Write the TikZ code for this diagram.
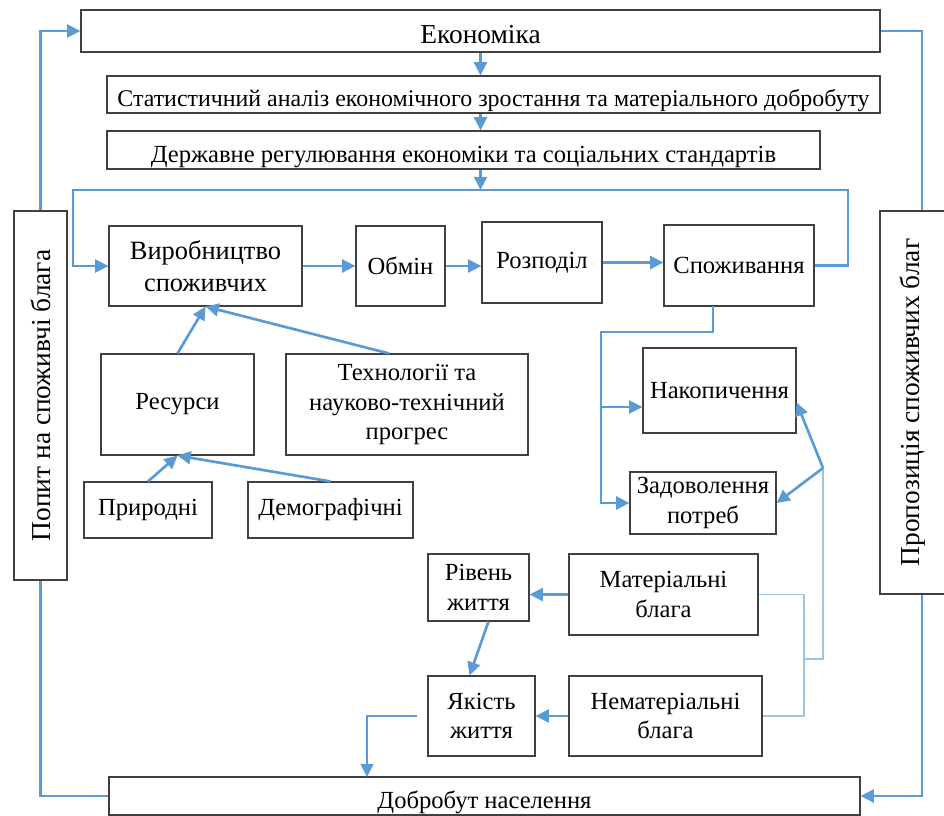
\documentclass[tikz,border=0pt]{standalone}
\usepackage{fontspec}
\setmainfont{Liberation Serif}
\usetikzlibrary{arrows.meta}
\definecolor{lineblue}{HTML}{5B9BD5}
\definecolor{thinblue}{HTML}{9DC3E6}

\begin{document}
\begin{tikzpicture}[
	box/.style={draw=black!75, line width=0.8pt, align=center, inner sep=1pt, font=\fontsize{17.5}{21}\selectfont},
	big/.style={font=\fontsize{19.5}{23}\selectfont},
	low/.style={text height=0.6cm, text depth=0pt, inner ysep=0pt},
	arr/.style={draw=lineblue, line width=1.9pt, -{Triangle[length=0.33cm,width=0.32cm]}},
	link/.style={draw=lineblue, line width=1.9pt},
	thinlink/.style={draw=thinblue, line width=1pt}]
	\useasboundingbox (0,0) rectangle (23.6,-20.4);
	\node[box, big, low, minimum width=19.975cm, minimum height=1.05cm] (econ) at (12.0125,-0.775) {Економіка};
	\node[box, low, font=\fontsize{17}{20}\selectfont, minimum width=19.325cm, minimum height=0.925cm] (stat) at (12.3375,-2.3625) {Статистичний аналіз економічного зростання та матеріального добробуту};
	\node[box, low, minimum width=17.825cm, minimum height=0.95cm] (derzh) at (11.5875,-3.75) {Державне регулювання економіки та соціальних стандартів};
	\node[box, big, minimum width=1.325cm, minimum height=9.225cm] (popyt) at (1.0125,-9.8875) {\rotatebox{90}{Попит на споживчі блага}};
	\node[box, big, minimum width=1.65cm, minimum height=9.575cm] (propoz) at (22.825,-10.0625) {\rotatebox{90}{Пропозиція споживчих благ}};
	\node[box, font=\fontsize{18.8}{22.5}\selectfont, minimum width=4.825cm, minimum height=2cm] (vyrob) at (5.1375,-6.65) {Виробництво\\споживчих};
	\node[box, minimum width=2.225cm, minimum height=2cm] (obmin) at (10.0125,-6.65) {Обмін};
	\node[box, minimum width=3cm, minimum height=2.025cm] (rozpodil) at (13.55,-6.5625) {Розподіл};
	\node[box, minimum width=3.75cm, minimum height=2.025cm] (spozh) at (18.475,-6.6375) {Споживання};
	\node[box, minimum width=3.825cm, minimum height=2.525cm] (resursy) at (4.4375,-10.1125) {Ресурси};
	\node[box, minimum width=6.05cm, minimum height=2.525cm] (tech) at (10.175,-10.1125) {Технології та\\науково-технічний\\прогрес};
	\node[box, minimum width=3.2cm, minimum height=1.4cm] (pryr) at (3.7,-12.75) {Природні};
	\node[box, minimum width=4.125cm, minimum height=1.4cm] (demo) at (8.2625,-12.75) {Демографічні};
	\node[box, minimum width=3.825cm, minimum height=2.125cm] (nakop) at (17.9875,-9.7625) {Накопичення};
	\node[box, minimum width=3.65cm, minimum height=1.55cm] (zadov) at (17.575,-12.575) {Задоволення\\потреб};
	\node[box, minimum width=2.525cm, minimum height=1.675cm] (riven) at (11.9625,-14.6875) {Рівень\\життя};
	\node[box, minimum width=4.725cm, minimum height=2.025cm] (mater) at (16.5875,-14.8625) {Матеріальні\\блага};
	\node[box, minimum width=2.675cm, minimum height=2cm] (yakist) at (12.0375,-17.9) {Якість\\життя};
	\node[box, minimum width=4.825cm, minimum height=2cm] (nemat) at (16.6375,-17.9) {Нематеріальні\\блага};
	\node[box, low, minimum width=18.775cm, minimum height=0.95cm] (dobrobut) at (12.1125,-19.9) {Добробут населення};
	\coordinate (tl) at (1.825,-4.75);
	\coordinate (tr) at (21.2,-4.75);
	\coordinate (sp) at (17.825,-7.65);
	\coordinate (br) at (15.025,-8.3);
	\coordinate (nk) at (15.025,-10.175);
	\coordinate (mid) at (20.1,-16.475);
	\coordinate (jn) at (20.575,-11.7);
	\coordinate (dq) at (9.175,-19.425);
	\draw[arr] (popyt.north) |- (econ.west);
	\draw[link] (econ.east) -| ([xshift=0.225cm]propoz.north);
	\draw[arr] ([xshift=0.225cm]propoz.south) |- (dobrobut.east);
	\draw[link] (popyt.south) |- (dobrobut.west);
	\draw[arr] (econ.south) -- (econ.south |- stat.north);
	\draw[arr] (econ.south |- stat.south) -- (econ.south |- derzh.north);
	\draw[arr] (econ.south |- derzh.south) -- (econ.south |- tl);
	\draw[arr] (spozh.east) -| (tr) -- (tl) |- (vyrob.west);
	\draw[arr] (vyrob.east) -- (obmin.west);
	\draw[arr] (obmin.east) -- (obmin.east -| rozpodil.west);
	\draw[arr] (rozpodil.east) -- (rozpodil.east -| spozh.west);
	\draw[arr] (sp) |- (br) |- (zadov.west);
	\draw[arr] (nk) -- (nk -| nakop.west);
	\draw[arr] (resursy.north) -- (vyrob.south);
	\draw[arr] ([xshift=-0.45cm]tech.north) -- (vyrob.south);
	\draw[arr] (pryr.north) -- (resursy.south);
	\draw[arr] (demo.north) -- (resursy.south);
	\draw[thinlink] (mater.east) -| (mid) |- (nemat.east);
	\draw[thinlink] (mid) -| (jn);
	\draw[arr] (jn) -- ([yshift=-0.3cm]nakop.east);
	\draw[arr] (jn) -- (zadov.east);
	\draw[arr] (mater.west) -- (mater.west -| riven.east);
	\draw[arr] (nemat.west) -- (nemat.west -| yakist.east);
	\draw[arr] ([xshift=0.25cm]riven.south) -- ([xshift=-0.3cm]yakist.north);
	\draw[arr] ([xshift=-0.25cm]yakist.west) -| (dq);
\end{tikzpicture}
\end{document}
